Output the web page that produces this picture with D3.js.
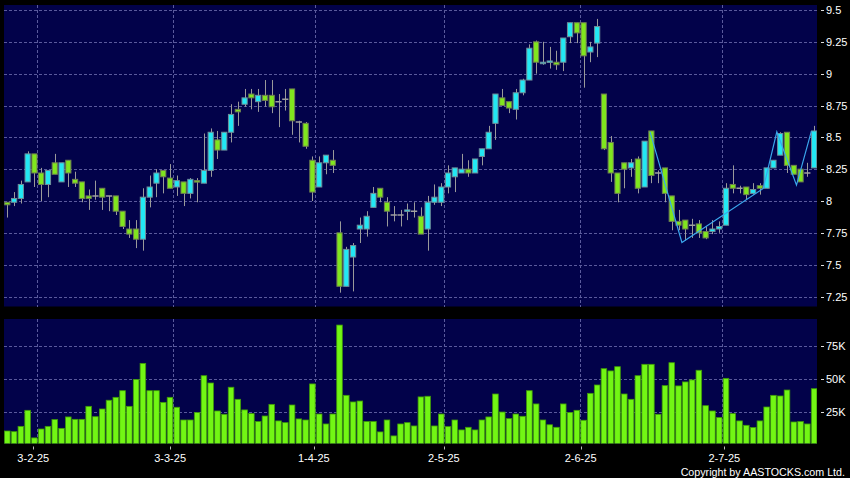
<!DOCTYPE html>
<html>
<head>
<meta charset="utf-8">
<script src="https://cdn.jsdelivr.net/npm/d3@7/dist/d3.min.js"></script>
<style>
  html, body { margin: 0; padding: 0; background: #000; }
  svg { display: block; }
  text { font-family: "Liberation Sans", Arial, sans-serif; fill: #fff; }
</style>
</head>
<body>
<svg id="chart" width="850" height="478"></svg>
<script>
// ---- Data ----
const opens  = [7.99,7.99,8.02,8.15,8.37,8.22,8.13,8.30,8.15,8.32,8.17,8.15,8.04,8.04,8.10,8.04,8.04,7.92,7.78,7.78,
                7.70,8.03,8.14,8.24,8.18,8.11,8.15,8.06,8.16,8.14,8.24,8.48,8.40,8.54,8.72,8.76,8.84,8.78,8.83,8.83,
                8.78,8.80,8.88,8.62,8.61,8.32,8.11,8.30,8.32,7.75,7.33,7.56,7.78,7.78,7.95,8.10,7.99,7.89,7.89,7.92,
                7.92,7.88,7.78,7.99,7.99,8.11,8.19,8.22,8.25,8.22,8.35,8.41,8.61,8.81,8.78,8.72,8.85,8.95,9.25,9.08,
                9.09,9.09,9.09,9.29,9.40,9.40,9.17,9.24,8.84,8.46,8.22,8.30,8.26,8.33,8.11,8.55,8.22,8.26,8.04,7.84,
                7.85,7.81,7.82,7.76,7.76,7.78,7.81,8.13,8.10,8.11,8.06,8.12,8.10,8.26,8.36,8.54,8.28,8.25,8.22,8.26];
const highs  = [7.99,8.07,8.16,8.39,8.37,8.26,8.24,8.37,8.30,8.32,8.23,8.15,8.09,8.16,8.10,8.04,8.04,7.92,7.85,7.85,
                8.10,8.20,8.25,8.24,8.29,8.20,8.15,8.18,8.18,8.53,8.57,8.55,8.54,8.76,8.78,8.88,8.88,8.88,8.95,8.95,
                8.84,8.88,8.88,8.63,8.62,8.35,8.35,8.36,8.40,7.84,7.64,7.67,7.87,7.92,8.11,8.10,8.03,7.96,7.93,7.98,
                7.99,7.95,8.04,8.13,8.14,8.28,8.26,8.37,8.32,8.33,8.41,8.59,8.84,8.88,8.78,8.88,8.96,9.23,9.26,9.25,
                9.21,9.18,9.28,9.40,9.40,9.40,9.25,9.43,8.84,8.51,8.22,8.30,8.33,8.35,8.47,8.55,8.24,8.26,8.04,7.93,
                7.85,7.86,7.85,7.80,7.85,7.84,8.14,8.28,8.12,8.11,8.14,8.14,8.26,8.32,8.54,8.54,8.28,8.25,8.30,8.59];
const lows   = [7.87,7.96,7.98,8.15,8.11,8.00,8.03,8.21,8.15,8.11,8.11,7.99,7.93,8.01,7.93,7.92,7.89,7.78,7.71,7.63,
                7.61,7.95,8.03,8.06,8.10,8.04,7.96,8.02,7.99,8.14,8.19,8.33,8.40,8.46,8.59,8.74,8.72,8.70,8.74,8.69,
                8.58,8.71,8.52,8.46,8.41,8.00,8.11,8.21,8.22,7.28,7.33,7.29,7.67,7.72,7.95,7.99,7.80,7.84,7.80,7.85,
                7.87,7.74,7.61,7.97,7.96,8.06,8.07,8.22,8.19,8.22,8.28,8.41,8.48,8.75,8.69,8.64,8.83,8.95,9.00,9.07,
                9.04,9.03,9.02,9.24,9.24,8.89,9.09,9.13,8.40,8.15,7.99,8.10,8.19,8.06,8.11,8.14,8.14,7.99,7.77,7.77,
                7.69,7.71,7.71,7.70,7.74,7.75,7.81,8.06,8.06,8.01,8.05,8.05,8.10,8.26,8.36,8.22,8.21,8.15,8.19,8.26];
const closes = [7.97,8.02,8.13,8.37,8.22,8.13,8.24,8.21,8.30,8.22,8.14,8.02,8.02,8.04,8.03,8.04,7.92,7.80,7.74,7.70,
                8.03,8.11,8.22,8.19,8.10,8.16,8.06,8.17,8.15,8.24,8.54,8.40,8.54,8.68,8.70,8.81,8.81,8.83,8.79,8.74,
                8.78,8.80,8.63,8.62,8.43,8.07,8.30,8.36,8.28,7.33,7.62,7.65,7.81,7.88,8.06,8.03,7.92,7.89,7.89,7.93,
                7.92,7.74,7.99,8.03,8.11,8.22,8.26,8.25,8.22,8.33,8.41,8.54,8.84,8.75,8.73,8.85,8.95,9.20,9.09,9.09,
                9.10,9.07,9.28,9.40,9.32,9.14,9.21,9.37,8.41,8.22,8.06,8.25,8.30,8.10,8.47,8.20,8.22,8.06,7.84,7.81,
                7.78,7.81,7.75,7.71,7.78,7.80,8.10,8.10,8.10,8.05,8.09,8.10,8.26,8.32,8.53,8.28,8.21,8.15,8.22,8.55];
const volumes = [10.9,10.4,14.4,26.5,5.7,12.4,14.4,19.5,12.9,21.5,19.7,19.7,29.5,21.7,27.5,34.1,36.3,41.3,29.5,49.8,
                 61.9,41.3,41.3,32.5,36.3,28.8,19.2,19.2,24.8,52.6,47.1,26.0,23.5,43.9,34.8,26.8,24.0,18.0,22.2,31.0,
                 18.5,17.2,30.5,20.0,19.2,46.4,23.7,16.2,23.7,90.8,37.8,32.8,33.5,18.0,18.0,10.2,19.2,7.2,16.2,17.2,
                 14.7,36.6,37.1,14.7,23.7,14.2,19.2,11.7,13.7,11.7,19.2,21.5,38.8,25.2,20.2,23.7,22.0,41.3,31.3,19.2,
                 15.6,13.7,31.3,24.8,26.5,19.0,39.3,45.6,57.9,56.2,59.4,38.8,34.8,52.6,61.2,61.2,23.5,45.1,62.4,44.9,
                 47.9,49.4,56.7,30.0,26.0,21.0,50.6,24.0,18.5,15.2,13.5,18.5,29.0,37.8,37.3,41.8,17.7,18.0,16.2,42.8]
                 .map(v => v * 1000);
// overlay line (fractional candle index, price)
const lineIdx    = [94.8, 99.5, 111.5, 113.5, 116.4, 118.6];
const linePrice  = [8.543, 7.674, 8.099, 8.543, 8.125, 8.549];
// axis ticks
const dateTickIdx    = [4, 24, 45, 64, 84, 105];
const dateTickLabels = ["3-2-25", "3-3-25", "1-4-25", "2-5-25", "2-6-25", "2-7-25"];
const priceTicks     = [7.25, 7.5, 7.75, 8, 8.25, 8.5, 8.75, 9, 9.25, 9.5];
const priceTickLabels= ["7.25","7.5","7.75","8","8.25","8.5","8.75","9","9.25","9.5"];
const volTicks       = [25000, 50000, 75000];
const volTickLabels  = ["25K","50K","75K"];

// ---- Layout ----
const svg = d3.select("#chart");
const W = 850, H = 478;
const main = {x0: 4, x1: 817, y0: 5, y1: 306.5};
const vol  = {x0: 4, x1: 817, y0: 319, y1: 443.5};
const N = opens.length;

const x = d3.scaleLinear().domain([0, N - 1]).range([7.3, 7.3 + (N - 1) * 6.78]);
// date labels use a slightly wider time scale than the candle slots
const xDate = d3.scaleLinear().domain([0, N - 1]).range([5.9, 820.1]);
const y = d3.scaleLinear().domain([7.25, 9.5]).range([296.5, 10]);
const yv = d3.scaleLinear().domain([25000, 75000]).range([412.3, 346]);

svg.append("rect").attr("width", W).attr("height", H).attr("fill", "#000");

const bg = "#02024a";
const gridColor = "#5a5a9c";
svg.append("rect").attr("x", main.x0).attr("y", main.y0)
   .attr("width", main.x1 - main.x0).attr("height", main.y1 - main.y0).attr("fill", bg);
svg.append("rect").attr("x", vol.x0).attr("y", vol.y0)
   .attr("width", vol.x1 - vol.x0).attr("height", vol.y1 - vol.y0).attr("fill", bg);

const defs = svg.append("defs");
defs.append("clipPath").attr("id", "clipMain").append("rect")
    .attr("x", main.x0).attr("y", main.y0).attr("width", main.x1 - main.x0).attr("height", main.y1 - main.y0);
defs.append("clipPath").attr("id", "clipVol").append("rect")
    .attr("x", vol.x0).attr("y", vol.y0).attr("width", vol.x1 - vol.x0).attr("height", vol.y1 - vol.y0);

const gridX = i => x(i + 0.45);

// grid: main
const gMainGrid = svg.append("g").attr("stroke", gridColor).attr("stroke-width", 1)
                     .attr("stroke-dasharray", "3,2").attr("shape-rendering", "crispEdges");
gMainGrid.selectAll("line.h").data(priceTicks).join("line")
   .attr("x1", main.x0).attr("x2", main.x1)
   .attr("y1", d => Math.round(y(d)) + 0.5).attr("y2", d => Math.round(y(d)) + 0.5);
gMainGrid.selectAll("line.v").data(dateTickIdx).join("line")
   .attr("y1", main.y0).attr("y2", main.y1)
   .attr("x1", d => Math.round(gridX(d)) + 0.5).attr("x2", d => Math.round(gridX(d)) + 0.5);

// grid: volume
const gVolGrid = svg.append("g").attr("stroke", gridColor).attr("stroke-width", 1)
                    .attr("stroke-dasharray", "3,2").attr("shape-rendering", "crispEdges");
gVolGrid.selectAll("line.h").data(volTicks).join("line")
   .attr("x1", vol.x0).attr("x2", vol.x1)
   .attr("y1", d => Math.round(yv(d)) + 0.5).attr("y2", d => Math.round(yv(d)) + 0.5);
gVolGrid.selectAll("line.v").data(dateTickIdx).join("line")
   .attr("y1", vol.y0).attr("y2", vol.y1)
   .attr("x1", d => Math.round(gridX(d)) + 0.5).attr("x2", d => Math.round(gridX(d)) + 0.5);

// candles
const candles = d3.range(N).map(i => ({i, o: opens[i], h: highs[i], l: lows[i], c: closes[i]}));
const gC = svg.append("g").attr("clip-path", "url(#clipMain)");
const bw = 5.2;
gC.selectAll("line.wick").data(candles).join("line")
  .attr("x1", d => Math.round(x(d.i)) + 0.5).attr("x2", d => Math.round(x(d.i)) + 0.5)
  .attr("y1", d => y(d.h)).attr("y2", d => y(d.l))
  .attr("stroke", "#9a9a9a").attr("stroke-width", 1);
gC.selectAll("rect.body").data(candles.filter(d => d.o !== d.c)).join("rect")
  .attr("x", d => x(d.i) - bw / 2).attr("width", bw)
  .attr("y", d => y(Math.max(d.o, d.c)))
  .attr("height", d => Math.max(1.5, Math.abs(y(d.o) - y(d.c))))
  .attr("fill", d => d.c > d.o ? "#22e8f4" : "#80e61e")
  .attr("stroke", d => d.c > d.o ? "#6f8f9a" : "#6f7f52")
  .attr("stroke-width", 1);
gC.selectAll("line.doji").data(candles.filter(d => d.o === d.c)).join("line")
  .attr("x1", d => x(d.i) - bw / 2 - 0.5).attr("x2", d => x(d.i) + bw / 2 + 0.5)
  .attr("y1", d => y(d.o)).attr("y2", d => y(d.o))
  .attr("stroke", "#a0a0a0").attr("stroke-width", 1.5);

// overlay line
const linePts = lineIdx.map((v, k) => [v, linePrice[k]]);
gC.append("path")
  .attr("d", d3.line().x(d => x(d[0])).y(d => y(d[1]))(linePts))
  .attr("fill", "none").attr("stroke", "#3aa6ec").attr("stroke-width", 1.2);

// volume bars
const gV = svg.append("g").attr("clip-path", "url(#clipVol)");
const vbw = 5.6;
gV.selectAll("rect").data(volumes).join("rect")
  .attr("x", (d, i) => x(i) - vbw / 2).attr("width", vbw)
  .attr("y", d => yv(d)).attr("height", d => vol.y1 + 2 - yv(d))
  .attr("fill", "#72f614").attr("stroke", "#3f9a08").attr("stroke-width", 0.8);

// right axes
const axisG = svg.append("g");
axisG.selectAll("line.pt").data(priceTicks).join("line")
  .attr("x1", 821).attr("x2", 824).attr("y1", d => Math.round(y(d)) + 0.5).attr("y2", d => Math.round(y(d)) + 0.5)
  .attr("stroke", "#ddd").attr("stroke-width", 1);
axisG.selectAll("text.pt").data(priceTicks).join("text")
  .attr("x", 826).attr("y", d => y(d) + 4)
  .attr("font-size", "11px").text((d, k) => priceTickLabels[k]);
axisG.selectAll("line.vt").data(volTicks).join("line")
  .attr("x1", 821).attr("x2", 824).attr("y1", d => Math.round(yv(d)) + 0.5).attr("y2", d => Math.round(yv(d)) + 0.5)
  .attr("stroke", "#ddd").attr("stroke-width", 1);
axisG.selectAll("text.vt").data(volTicks).join("text")
  .attr("x", 826).attr("y", d => yv(d) + 4)
  .attr("font-size", "11px").text((d, k) => volTickLabels[k]);

// bottom axis
axisG.selectAll("line.dt").data(dateTickIdx).join("line")
  .attr("x1", d => Math.round(xDate(d)) + 0.5).attr("x2", d => Math.round(xDate(d)) + 0.5)
  .attr("y1", 446.5).attr("y2", 449.5).attr("stroke", "#bbb").attr("stroke-width", 1);
axisG.selectAll("text.dt").data(dateTickIdx).join("text")
  .attr("x", d => xDate(d)).attr("y", 462).attr("text-anchor", "middle")
  .attr("font-size", "11px").text((d, k) => dateTickLabels[k]);

svg.append("text").attr("x", 845).attr("y", 475.5).attr("text-anchor", "end")
   .attr("font-size", "10.7px").text("Copyright by AASTOCKS.com Ltd.");
</script>
</body>
</html>
